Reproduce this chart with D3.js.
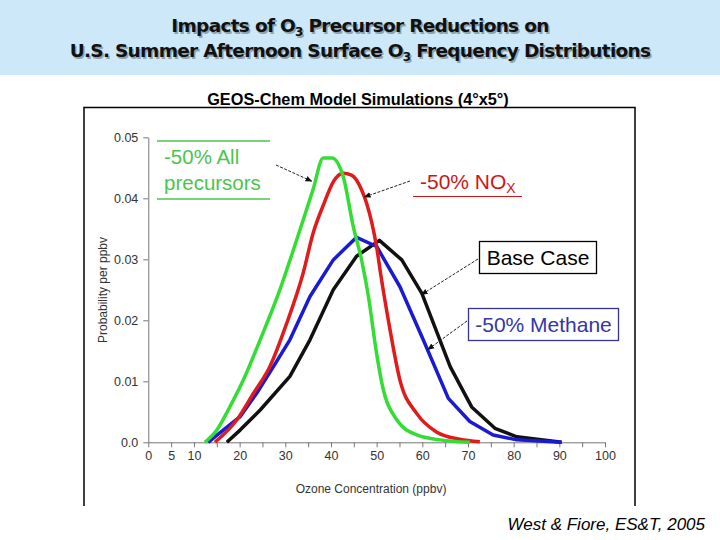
<!DOCTYPE html>
<html>
<head>
<meta charset="utf-8">
<script src="https://cdn.jsdelivr.net/npm/d3@7"></script>
<style>
  body { margin: 0; background: #fff; }
  svg { display: block; font-family: "Liberation Sans", Arial, sans-serif; }
</style>
</head>
<body>
<div id="chart"></div>
<script>
const width = 720;
const height = 540;

// [ozone ppbv, probability per ppbv]
const allPrecursors = [[12.4,0],[15,0.002],[17.5,0.0053],[20.8,0.0102],[24.5,0.0168],[28.8,0.025],
  [32.5,0.0332],[36.1,0.0415],[38.3,0.0466],[40.2,0.0466],[42.7,0.0435],[44.9,0.0353],[46.7,0.0299],
  [48.2,0.0239],[50,0.0145],[51.2,0.0095],[54.4,0.0037],[58.8,0.0012],[63.9,0.0004],[70.4,0]];
const noxCut = [[14.6,0],[19.4,0.0037],[23,0.008],[26.6,0.0124],[30.3,0.0195],[33.9,0.0277],
  [36.1,0.0343],[38.5,0.0392],[40.5,0.0427],[42.7,0.0441],[44.5,0.0438],[46.7,0.0414],[47.8,0.0392],
  [50,0.032],[51,0.027],[52.8,0.019],[55.1,0.0102],[58.8,0.0047],[63.1,0.0017],[68.2,0.0005],[72.6,0.0001]];
const methaneCut = [[13.1,0],[16.4,0.002],[20.1,0.0042],[23.7,0.008],[27.4,0.0124],[31,0.0168],
  [35.4,0.0239],[40.5,0.0299],[45.6,0.0336],[50,0.0321],[55.1,0.0255],[60.2,0.0168],[65.7,0.0072],
  [70.4,0.0034],[75.5,0.0012],[80.7,0.0004],[90.5,0]];
const baseCase = [[17.2,0],[20.1,0.002],[24.5,0.0053],[31,0.0108],[35.4,0.0168],[40.5,0.025],
  [45.6,0.0305],[50.6,0.0331],[55.5,0.0299],[59.9,0.0244],[66.1,0.0124],[70.8,0.0058],[75.9,0.0023],
  [80.7,0.0009],[90.5,0]];

const xTicks = d3.range(0, 101, 5);
const xLabelled = [0, 5, 10, 20, 30, 40, 50, 60, 70, 80, 90, 100];
const yTicks = [0, 0.01, 0.02, 0.03, 0.04, 0.05];

const svg = d3.select("#chart").append("svg")
  .attr("width", width)
  .attr("height", height);

// header banner
svg.append("rect")
  .attr("x", 0).attr("y", 0)
  .attr("width", width).attr("height", 75)
  .attr("fill", "#cde9f9");

const titleLines = [
  {y: 32, parts: ["Impacts of O", "3", " Precursor Reductions on"]},
  {y: 57, parts: ["U.S. Summer Afternoon Surface O", "3", " Frequency Distributions"]}
];

function drawTitle(dx, dy, fill) {
  titleLines.forEach(l => {
    const t = svg.append("text")
      .attr("x", 360 + dx).attr("y", l.y + dy)
      .attr("text-anchor", "middle")
      .attr("font-family", "'DejaVu Sans', Verdana, sans-serif")
      .attr("font-weight", "bold")
      .attr("font-size", 18.5)
      .attr("letter-spacing", -0.7)
      .attr("fill", fill);
    l.parts.forEach((p, i) => {
      const ts = t.append("tspan").text(p);
      if (i === 1) ts.attr("font-size", 12).attr("dy", 4);
      if (i === 2) ts.attr("dy", -4);
    });
  });
}
drawTitle(1.5, 1.5, "#8fa3ad");
drawTitle(0, 0, "#111");

svg.append("text")
  .attr("x", 358).attr("y", 105)
  .attr("text-anchor", "middle")
  .attr("font-weight", "bold")
  .attr("font-size", 16.3)
  .text("GEOS-Chem Model Simulations (4°x5°)");

// figure frame (open at the bottom)
svg.append("path")
  .attr("d", "M84,506V107.5H635V506")
  .attr("fill", "none")
  .attr("stroke", "#000")
  .attr("stroke-width", 1.5);

const x = d3.scaleLinear().domain([0, 100]).range([148.3, 605]);
const y = d3.scaleLinear().domain([0, 0.05]).range([442.3, 137.3]);

const xAxis = g => g
  .attr("transform", `translate(0,${y(0)})`)
  .call(d3.axisBottom(x).tickValues(xTicks)
    .tickFormat(d => xLabelled.includes(d) ? d : "")
    .tickSizeInner(5).tickSizeOuter(0).tickPadding(4))
  .call(g => g.selectAll("line, path").attr("stroke", "#777"))
  .call(g => g.selectAll("text").attr("fill", "#333").attr("font-size", 12.5)
    .attr("font-family", "'Liberation Sans', Arial, sans-serif"));

const yAxis = g => g
  .attr("transform", `translate(${x(0)},0)`)
  .call(d3.axisLeft(y).tickValues(yTicks)
    .tickFormat(d => d === 0 ? "0.0" : d3.format(".2f")(d))
    .tickSizeInner(5).tickSizeOuter(0).tickPadding(5))
  .call(g => g.selectAll("line, path").attr("stroke", "#777"))
  .call(g => g.selectAll("text").attr("fill", "#333").attr("font-size", 12.5)
    .attr("font-family", "'Liberation Sans', Arial, sans-serif"));

svg.append("g").call(xAxis);
svg.append("g").call(yAxis);

svg.append("text")
  .attr("x", 371).attr("y", 493)
  .attr("text-anchor", "middle")
  .attr("font-size", 12)
  .attr("fill", "#333")
  .text("Ozone Concentration (ppbv)");

svg.append("text")
  .attr("transform", "translate(107,290) rotate(-90)")
  .attr("text-anchor", "middle")
  .attr("font-size", 12)
  .attr("fill", "#333")
  .text("Probability per ppbv");

const series = [
  {data: baseCase, color: "#111111", curve: d3.curveLinear},
  {data: methaneCut, color: "#1a1ad0", curve: d3.curveLinear},
  {data: noxCut, color: "#e01b1b", curve: d3.curveMonotoneX},
  {data: allPrecursors, color: "#33dd33", curve: d3.curveMonotoneX}
];

svg.selectAll("path.curve")
  .data(series)
  .join("path")
    .attr("class", "curve")
    .attr("fill", "none")
    .attr("stroke", d => d.color)
    .attr("stroke-width", 3.5)
    .attr("stroke-linejoin", "round")
    .attr("d", d => {
      const line = d3.line()
        .curve(d.curve)
        .x(p => x(p[0]))
        .y(p => y(p[1]));
      return line(d.data);
    });

// arrow marker
svg.append("defs").append("marker")
  .attr("id", "head")
  .attr("viewBox", "0 0 10 10")
  .attr("refX", 9).attr("refY", 5)
  .attr("markerWidth", 7).attr("markerHeight", 7)
  .attr("orient", "auto")
  .append("path")
  .attr("d", "M0,1L10,5L0,9z")
  .attr("fill", "#111");

function arrow(x1, y1, x2, y2) {
  svg.append("line")
    .attr("x1", x1).attr("y1", y1)
    .attr("x2", x2).attr("y2", y2)
    .attr("stroke", "#222")
    .attr("stroke-width", 1)
    .attr("stroke-dasharray", "3,1.5")
    .attr("marker-end", "url(#head)");
}

// -50% All precursors
const green = "#4cc44c";
svg.append("line").attr("x1", 157).attr("x2", 270).attr("y1", 141).attr("y2", 141)
  .attr("stroke", green).attr("stroke-width", 1.5);
svg.append("line").attr("x1", 157).attr("x2", 270).attr("y1", 199).attr("y2", 199)
  .attr("stroke", green).attr("stroke-width", 1.5);
svg.append("text").attr("x", 164).attr("y", 164).attr("font-size", 20.5).attr("fill", green)
  .text("-50% All");
svg.append("text").attr("x", 164).attr("y", 190).attr("font-size", 20.5).attr("fill", green)
  .text("precursors");
arrow(276, 165, x(35.8), y(0.0428));

// -50% NOx
const red = "#d01515";
const nox = svg.append("text").attr("x", 420).attr("y", 189).attr("font-size", 21).attr("fill", red);
nox.append("tspan").text("-50% NO");
nox.append("tspan").attr("font-size", 14).attr("dy", 4).text("X");
svg.append("line").attr("x1", 413).attr("x2", 522).attr("y1", 196.5).attr("y2", 196.5)
  .attr("stroke", red).attr("stroke-width", 1.2);
arrow(410, 181, x(47.3), y(0.0402));

// Base Case
svg.append("rect").attr("x", 479.5).attr("y", 241.5).attr("width", 117).attr("height", 32)
  .attr("fill", "#fff").attr("stroke", "#000").attr("stroke-width", 1.3);
svg.append("text").attr("x", 538).attr("y", 265).attr("text-anchor", "middle")
  .attr("font-size", 21).attr("fill", "#000").text("Base Case");
arrow(478, 259, x(59.8), y(0.0242));

// -50% Methane
const navy = "#333399";
svg.append("rect").attr("x", 468.5).attr("y", 308.5).attr("width", 150).attr("height", 32)
  .attr("fill", "#fff").attr("stroke", navy).attr("stroke-width", 1.3);
svg.append("text").attr("x", 543.5).attr("y", 332).attr("text-anchor", "middle")
  .attr("font-size", 21).attr("fill", "#3535a8").text("-50% Methane");
arrow(467, 321, x(61.2), y(0.0152));

svg.append("text")
  .attr("x", 705).attr("y", 530)
  .attr("text-anchor", "end")
  .attr("font-size", 17)
  .attr("font-style", "italic")
  .attr("fill", "#000")
  .text("West & Fiore, ES&T, 2005");
</script>
</body>
</html>
